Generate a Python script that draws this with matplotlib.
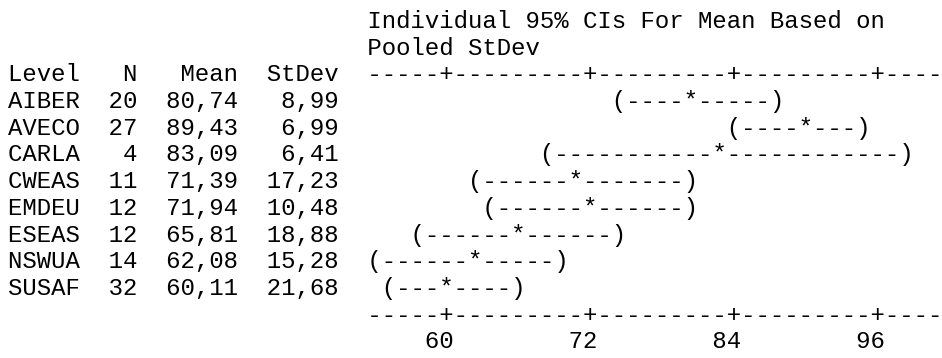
import numpy as np
import matplotlib
matplotlib.use("Agg")
import matplotlib.pyplot as plt

# One-way ANOVA summary per level
levels = ["AIBER", "AVECO", "CARLA", "CWEAS", "EMDEU", "ESEAS", "NSWUA", "SUSAF"]
n_obs = [20, 27, 4, 11, 12, 12, 14, 32]
means = [80.74, 89.43, 83.09, 71.39, 71.94, 65.81, 62.08, 60.11]
stdevs = [8.99, 6.99, 6.41, 17.23, 10.48, 18.88, 15.28, 21.68]

tick_values = [60, 72, 84, 96]
title_lines = ["Individual 95% CIs For Mean Based on", "Pooled StDev"]

# t(0.975) for the error degrees of freedom (132 - 8 = 124)
T975 = 1.9793

# text-plot geometry, in characters
LEFT = 25          # column where the interval plot starts
WIDTH = 40         # width of the interval plot
X_START = 54.0     # value at the first plot column
X_STEP = 1.2       # value per column

# pixel grid of the output
CHAR_W = 14.4
LINE_H = 26.7
X0, Y0 = 8, 28


def col(v):
    return LEFT + int(np.floor((v - X_START) / X_STEP + 0.5))


def comma(v):
    return f"{v:.2f}".replace(".", ",")


def ci_string(lo, mid, hi):
    a, m, b = col(lo), col(mid), col(hi)
    chars = [" "] * (b + 1)
    for i in range(a + 1, b):
        chars[i] = "-"
    chars[a] = "("
    chars[m] = "*"
    chars[b] = ")"
    return "".join(chars)[LEFT:]


n = np.array(n_obs)
s = np.array(stdevs)
pooled = np.sqrt(np.sum((n - 1) * s ** 2) / np.sum(n - 1))
half = T975 * pooled / np.sqrt(n)

# eje de texto: guiones con '+' en cada marca
axis_chars = ["-"] * WIDTH
label_chars = [" "] * WIDTH
for t in tick_values:
    c = col(t) - LEFT
    axis_chars[c] = "+"
    txt = str(t)
    for k, ch in enumerate(txt):
        label_chars[c - len(txt) + 1 + k] = ch
axis_line = " " * LEFT + "".join(axis_chars)
tick_line = " " * LEFT + "".join(label_chars).rstrip()

lines = [" " * LEFT + t for t in title_lines]
lines.append(f"{'Level':<5}  {'N':>2}  {'Mean':>5}  {'StDev':>5}  " + "".join(axis_chars))
for lvl, k, m, sd, h in zip(levels, n_obs, means, stdevs, half):
    row = f"{lvl:<5}  {k:>2}  {comma(m):>5}  {comma(sd):>5}  "
    lines.append(row + ci_string(m - h, m, m + h))
lines.append(axis_line)
lines.append(tick_line)

fig = plt.figure(figsize=(9.42, 3.58), dpi=100)
ax = fig.add_axes([0, 0, 1, 1])
ax.set_xlim(-X0 / CHAR_W, (942 - X0) / CHAR_W)
ax.set_ylim((358 - Y0) / LINE_H, -Y0 / LINE_H)
ax.axis("off")

font_pt = CHAR_W / 0.6 * 72 / 100
for r, line in enumerate(lines):
    ax.text(0, r, line, family="Liberation Mono", fontsize=font_pt,
            ha="left", va="baseline", color="black")

fig.savefig("out.png", dpi=100, facecolor="white")
